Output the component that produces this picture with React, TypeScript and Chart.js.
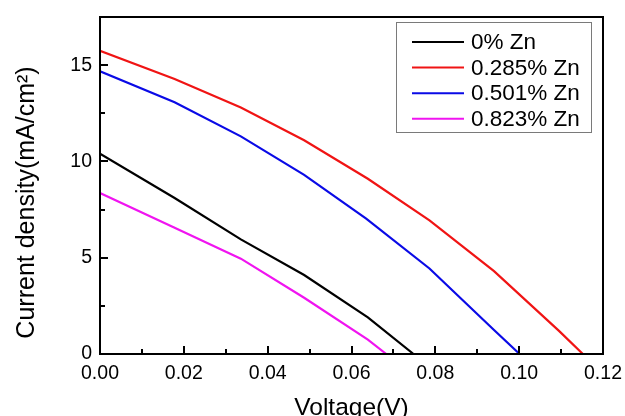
import React, { useEffect, useRef } from "react";
import { Chart, registerables } from "chart.js";

Chart.register(...registerables);

// ---- data ----
const seriesLabels = ["0% Zn", "0.285% Zn", "0.501% Zn", "0.823% Zn"];
const seriesColors = ["#000000", "#f01414", "#0a0ae6", "#f014f0"];

const voltage0 = [0, 0.0178, 0.0336, 0.0487, 0.0639, 0.0748];
const current0 = [10.4, 8.1, 5.95, 4.1, 1.9, 0];

const voltage285 = [0, 0.0178, 0.0336, 0.0487, 0.0639, 0.0786, 0.094, 0.1095, 0.1152];
const current285 = [15.75, 14.28, 12.8, 11.1, 9.1, 6.94, 4.3, 1.2, 0];

const voltage501 = [0, 0.0178, 0.0336, 0.0487, 0.0635, 0.0786, 0.094, 0.1001];
const current501 = [14.68, 13.07, 11.3, 9.3, 7.03, 4.44, 1.25, 0];

const voltage823 = [0, 0.0178, 0.0336, 0.0487, 0.0639, 0.0683];
const current823 = [8.36, 6.55, 4.95, 2.92, 0.75, 0];

const xTicks = [0, 0.02, 0.04, 0.06, 0.08, 0.1, 0.12];
const xTickLabels = ["0.00", "0.02", "0.04", "0.06", "0.08", "0.10", "0.12"];
const yTicks = [0, 5, 10, 15];
const yTickLabels = ["0", "5", "10", "15"];

const xTitle = "Voltage(V)";
const yTitle = "Current density(mA/cm²)";

const xMin = 0;
const xMax = 0.12;
const yMin = 0;
const yMax = 17.5;

const FONT = "'Liberation Sans', Arial, sans-serif";

const toPoints = (xs: number[], ys: number[]) => xs.map((x, i) => ({ x, y: ys[i] }));

const framePlugin = {
  id: "frameTicks",
  afterDatasetsDraw(chart: any) {
    const { ctx, chartArea } = chart;
    const xs = chart.scales.x;
    const ys = chart.scales.y;
    ctx.save();
    ctx.strokeStyle = "#000";
    ctx.lineWidth = 2;
    ctx.strokeRect(chartArea.left, chartArea.top, chartArea.right - chartArea.left, chartArea.bottom - chartArea.top);
    ctx.beginPath();
    const xt: number[] = [];
    xTicks.forEach((v, i) => {
      xt.push(v);
      if (i < xTicks.length - 1) xt.push((v + xTicks[i + 1]) / 2);
    });
    xt.forEach((v) => {
      const major = xTicks.includes(v);
      const px = Math.round(xs.getPixelForValue(v));
      if (px <= chartArea.left + 1 || px >= chartArea.right - 1) return;
      const len = major ? 8 : 5;
      ctx.moveTo(px, chartArea.bottom);
      ctx.lineTo(px, chartArea.bottom - len);
    });
    const yt: number[] = [];
    yTicks.forEach((v) => {
      yt.push(v);
      yt.push(v + (yTicks[1] - yTicks[0]) / 2);
    });
    yt.forEach((v) => {
      const major = yTicks.includes(v);
      const py = Math.round(ys.getPixelForValue(v));
      if (py <= chartArea.top + 1 || py >= chartArea.bottom - 1) return;
      const len = major ? 8 : 5;
      ctx.moveTo(chartArea.left, py);
      ctx.lineTo(chartArea.left + len, py);
    });
    ctx.stroke();
    ctx.restore();
  },
  afterDraw(chart: any) {
    const { ctx, chartArea } = chart;
    // axis titles
    ctx.save();
    ctx.fillStyle = "#000";
    ctx.textAlign = "center";
    ctx.textBaseline = "alphabetic";
    ctx.font = `24.5px ${FONT}`;
    ctx.fillText(xTitle, (chartArea.left + chartArea.right) / 2, 414.5);
    ctx.translate(33.5, 202.5);
    ctx.rotate(-Math.PI / 2);
    ctx.font = `25px ${FONT}`;
    ctx.fillText(yTitle, 0, 0);
    ctx.restore();

    // legend
    const boxW = 195;
    const boxH = 110;
    const left = chartArea.right - 207;
    const top = chartArea.top + 5;
    ctx.save();
    ctx.fillStyle = "#fff";
    ctx.fillRect(left, top, boxW, boxH);
    ctx.strokeStyle = "#7a7a7a";
    ctx.lineWidth = 1;
    ctx.strokeRect(left + 0.5, top + 0.5, boxW, boxH);
    ctx.font = `22.5px ${FONT}`;
    ctx.textBaseline = "middle";
    ctx.textAlign = "left";
    chart.data.datasets.forEach((ds: any, i: number) => {
      const cy = top + 20 + i * 25.6;
      ctx.strokeStyle = ds.borderColor;
      ctx.lineWidth = 2;
      ctx.beginPath();
      ctx.moveTo(left + 16, cy);
      ctx.lineTo(left + 68, cy);
      ctx.stroke();
      ctx.fillStyle = "#000";
      ctx.fillText(ds.label, left + 75, cy + 1);
    });
    ctx.restore();
  },
};

export default function App() {
  const ref = useRef<HTMLCanvasElement | null>(null);
  useEffect(() => {
    if (!ref.current) return;
    Chart.defaults.font.family = FONT;
    const seriesX = [voltage0, voltage285, voltage501, voltage823];
    const seriesY = [current0, current285, current501, current823];
    const chart = new Chart(ref.current, {
      type: "line",
      data: {
        datasets: seriesLabels.map((label, i) => ({
          label,
          data: toPoints(seriesX[i], seriesY[i]),
          borderColor: seriesColors[i],
          backgroundColor: seriesColors[i],
          borderWidth: 2.2,
          pointRadius: 0,
          tension: 0,
          fill: false,
        })),
      },
      options: {
        responsive: false,
        animation: false,
        events: [],
        layout: { padding: { left: 0, top: 17, right: 22, bottom: 0 } },
        plugins: { legend: { display: false }, tooltip: { enabled: false } },
        scales: {
          x: {
            type: "linear",
            min: xMin,
            max: xMax,
            afterBuildTicks: (s: any) => {
              s.ticks = xTicks.map((v) => ({ value: v }));
            },
            afterFit: (s: any) => {
              s.height = 62;
              s.paddingLeft = 0;
              s.paddingRight = 0;
            },
            ticks: {
              callback: (_v: any, i: number) => xTickLabels[i],
              font: { size: 19.5 },
              color: "#000",
              padding: 8,
              maxRotation: 0,
              autoSkip: false,
            },
            grid: { display: false, drawTicks: false },
            border: { display: false },
            title: { display: false },
          },
          y: {
            type: "linear",
            min: yMin,
            max: yMax,
            afterBuildTicks: (s: any) => {
              s.ticks = yTicks.map((v) => ({ value: v }));
            },
            afterFit: (s: any) => {
              s.width = 100;
              s.paddingTop = 0;
              s.paddingBottom = 0;
            },
            ticks: {
              callback: (_v: any, i: number) => yTickLabels[i],
              font: { size: 19.5 },
              color: "#000",
              padding: 8,
              autoSkip: false,
            },
            grid: { display: false, drawTicks: false },
            border: { display: false },
            title: { display: false },
          },
        },
      },
      plugins: [framePlugin],
    } as any);
    return () => chart.destroy();
  }, []);
  return (
    <div style={{ position: "absolute", left: 0, top: 0, width: 625, height: 416, background: "#fff" }}>
      <canvas ref={ref} width={625} height={416} style={{ display: "block" }} />
    </div>
  );
}
